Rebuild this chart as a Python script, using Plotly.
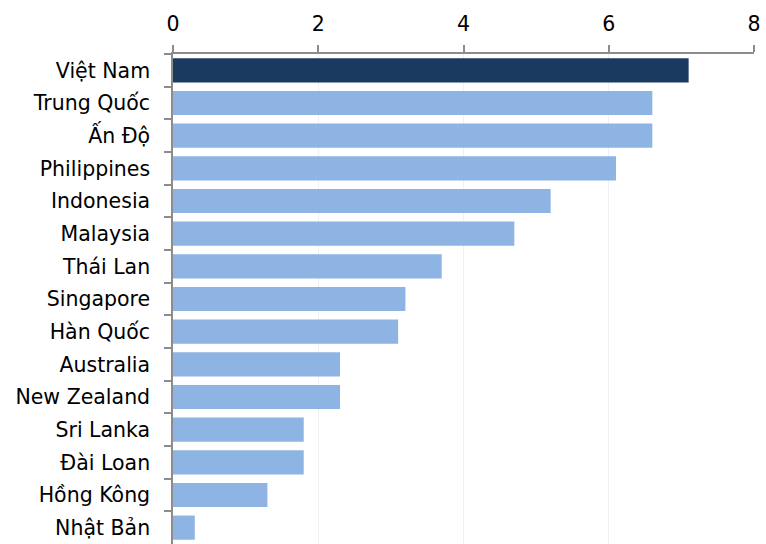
import plotly.graph_objects as go

countries = ["Việt Nam", "Trung Quốc", "Ấn Độ", "Philippines", "Indonesia", "Malaysia",
             "Thái Lan", "Singapore", "Hàn Quốc", "Australia", "New Zealand", "Sri Lanka",
             "Đài Loan", "Hồng Kông", "Nhật Bản"]
values = [7.1, 6.6, 6.6, 6.1, 5.2, 4.7, 3.7, 3.2, 3.1, 2.3, 2.3, 1.8, 1.8, 1.3, 0.3]
x_ticks = [0, 2, 4, 6, 8]

DARK = "#1B3A60"
LIGHT = "#8EB4E3"
colors = [DARK if c == "Việt Nam" else LIGHT for c in countries]

fig = go.Figure(go.Bar(
    x=values, y=countries, orientation="h",
    marker=dict(color=colors, line=dict(width=0)),
    width=0.74,
))

font_family = "DejaVu Sans"
fig.update_layout(
    width=766, height=544,
    margin=dict(l=173, r=12, t=54, b=0),
    paper_bgcolor="white", plot_bgcolor="white",
    showlegend=False,
    font=dict(family=font_family, size=20.5, color="#000000"),
)
fig.update_xaxes(
    side="top", range=[0, 8], tickvals=x_ticks, ticktext=[str(v) for v in x_ticks],
    showgrid=True, gridcolor="#EEF0F6", gridwidth=1,
    showline=True, linecolor="#8C8C8C", linewidth=1.5,
    ticks="outside", ticklen=7, tickcolor="#8C8C8C", tickwidth=1.5,
    zeroline=False, tickfont=dict(size=20.5, family=font_family),
    ticklabelstandoff=6,
)
fig.update_yaxes(
    categoryorder="array", categoryarray=countries, autorange="reversed",
    showline=True, linecolor="#8C8C8C", linewidth=1.5,
    ticks="outside", ticklen=7, tickcolor="#8C8C8C", tickwidth=1.5,
    tickson="boundaries", showgrid=False,
    tickfont=dict(size=20.5, family=font_family),
    ticklabelstandoff=17,
)
fig.write_html("out.html")
